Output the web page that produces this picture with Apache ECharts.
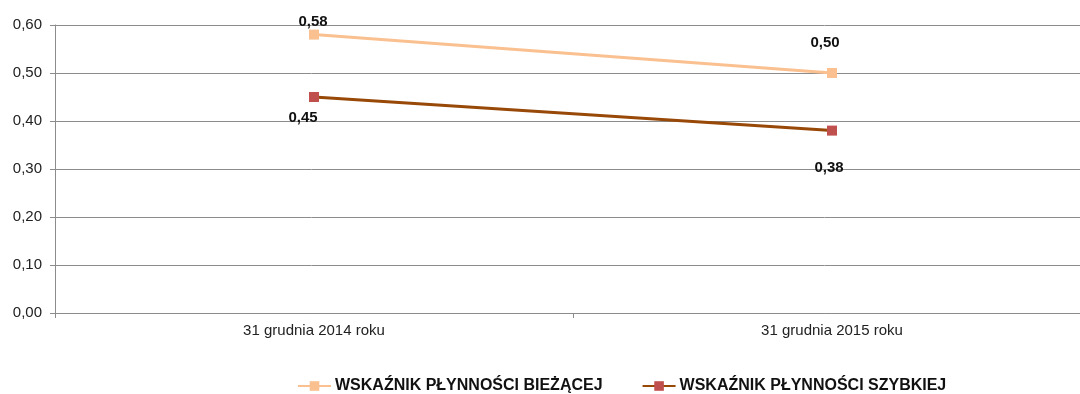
<!DOCTYPE html>
<html>
<head>
<meta charset="utf-8">
<script src="https://cdn.jsdelivr.net/npm/echarts@6/dist/echarts.min.js"></script>
<style>
html,body{margin:0;padding:0;background:#fff;}
#chart{width:1080px;height:394px;}
</style>
</head>
<body>
<div id="chart"></div>
<script>
const categories = ['31 grudnia 2014 roku', '31 grudnia 2015 roku'];
const currentRatio = [0.58, 0.50];
const quickRatio = [0.45, 0.38];
const seriesNames = ['WSKAŹNIK PŁYNNOŚCI BIEŻĄCEJ', 'WSKAŹNIK PŁYNNOŚCI SZYBKIEJ'];
const yTicks = [0, 0.1, 0.2, 0.3, 0.4, 0.5, 0.6];

const fmt = v => v.toFixed(2).replace('.', ',');
const labelFont = {
  fontFamily: '"Liberation Sans Narrow", "Arial Narrow", "Liberation Sans", Arial, sans-serif',
  fontWeight: 'bold',
  fontSize: 15,
  color: '#111'
};
const axisFont = 'Arial, "Liberation Sans", sans-serif';

const chart = echarts.init(document.getElementById('chart'));
chart.setOption({
  animation: false,
  grid: { left: 55, width: 1036, top: 25, height: 288, outerBoundsMode: 'none', containLabel: false },
  legend: {
    top: 373,
    left: 292,
    itemWidth: 33,
    itemHeight: 12,
    itemGap: 39,
    textStyle: Object.assign({}, labelFont, { fontSize: 16, padding: [0, 0, 0, -1] }),
    data: seriesNames.map(n => ({ name: n }))
  },
  xAxis: {
    type: 'category',
    data: categories,
    boundaryGap: true,
    axisLine: { lineStyle: { color: '#8c8c8c', width: 1 } },
    axisTick: { show: true, length: 5, lineStyle: { color: '#8c8c8c' } },
    axisLabel: { color: '#222', fontSize: 15, margin: 10, fontFamily: axisFont }
  },
  yAxis: {
    type: 'value',
    min: 0,
    max: 0.6,
    interval: 0.1,
    axisLine: { show: true, lineStyle: { color: '#8c8c8c', width: 1 } },
    axisTick: { show: true, length: 5, lineStyle: { color: '#8c8c8c' } },
    splitLine: { lineStyle: { color: '#8c8c8c', width: 1 } },
    axisLabel: {
      color: '#222', fontSize: 15, margin: 13,
      fontFamily: axisFont,
      formatter: v => yTicks.some(t => Math.abs(t - v) < 1e-9) ? fmt(v) : ''
    }
  },
  series: [
    {
      name: seriesNames[0],
      type: 'line',
      data: currentRatio,
      symbol: 'rect',
      symbolSize: 10,
      lineStyle: { color: '#FAC090', width: 3 },
      itemStyle: { color: '#FAC090' },
      label: {
        show: true,
        position: 'top',
        formatter: p => fmt(p.value),
        ...labelFont
      },
      labelLayout: (params) => params.dataIndex === 1 ? { dx: -7, dy: -13 } : { dx: -1, dy: 5 }
    },
    {
      name: seriesNames[1],
      type: 'line',
      data: quickRatio,
      symbol: 'rect',
      symbolSize: 10,
      lineStyle: { color: '#984807', width: 3 },
      itemStyle: { color: '#C0504D' },
      label: {
        show: true,
        position: 'bottom',
        formatter: p => fmt(p.value),
        ...labelFont
      },
      labelLayout: (params) => params.dataIndex === 1 ? { dx: -3, dy: 20 } : { dx: -11, dy: 3 }
    }
  ]
});
</script>
</body>
</html>
